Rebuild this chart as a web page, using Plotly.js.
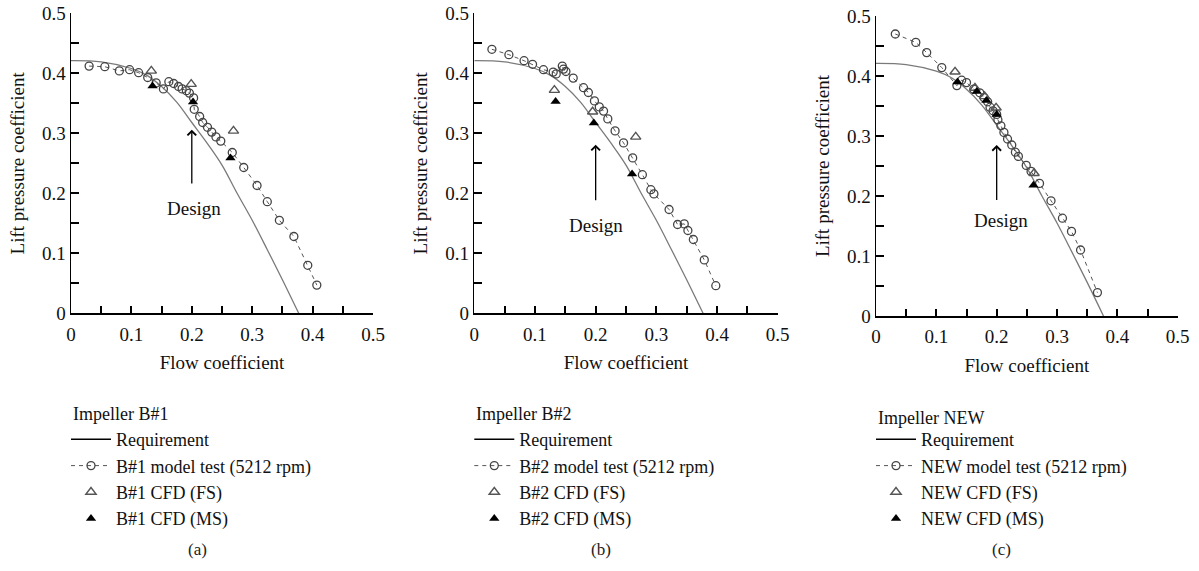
<!DOCTYPE html>
<html><head><meta charset="utf-8">
<script src="https://cdn.plot.ly/plotly-3.0.1.min.js"></script>
<style>html,body{margin:0;padding:0;background:#fff}#chart{width:1199px;height:571px}</style>
</head><body><div id="chart"></div>
<script>
// Requirement curve (same in all panels)
const reqX = [0, 0.05, 0.1, 0.125, 0.15, 0.175, 0.2, 0.225, 0.25, 0.275, 0.3, 0.325, 0.35, 0.377];
const reqY = [0.421, 0.419, 0.408, 0.397, 0.378, 0.352, 0.318, 0.284, 0.247, 0.2, 0.155, 0.106, 0.056, 0];

// Panel (a) Impeller B#1
const aTestX = [0.030,0.056,0.080,0.097,0.112,0.127,0.141,0.153,0.162,0.170,0.178,0.184,0.191,0.196,0.203,0.204,0.213,0.218,0.226,0.233,0.240,0.248,0.267,0.286,0.308,0.325,0.345,0.369,0.392,0.407];
const aTestY = [0.412,0.411,0.404,0.406,0.401,0.393,0.384,0.374,0.386,0.383,0.378,0.374,0.371,0.367,0.359,0.340,0.328,0.318,0.310,0.302,0.294,0.287,0.268,0.243,0.213,0.186,0.155,0.128,0.080,0.047];
const aFsX = [0.133,0.199,0.269];
const aFsY = [0.404,0.382,0.304];
const aMsX = [0.135,0.202,0.264];
const aMsY = [0.379,0.352,0.259];

// Panel (b) Impeller B#2
const bTestX = [0.029,0.057,0.082,0.096,0.114,0.130,0.135,0.145,0.147,0.151,0.163,0.180,0.188,0.198,0.206,0.213,0.220,0.232,0.246,0.261,0.277,0.291,0.296,0.321,0.335,0.346,0.352,0.361,0.379,0.398];
const bTestY = [0.440,0.431,0.421,0.415,0.406,0.402,0.399,0.412,0.407,0.403,0.392,0.376,0.368,0.354,0.344,0.337,0.324,0.304,0.284,0.259,0.231,0.206,0.199,0.173,0.148,0.149,0.138,0.123,0.089,0.046];
const bFsX = [0.132,0.195,0.266];
const bFsY = [0.372,0.336,0.294];
const bMsX = [0.134,0.197,0.260];
const bMsY = [0.353,0.317,0.232];

// Panel (c) Impeller NEW
const cTestX = [0.032,0.066,0.084,0.109,0.134,0.142,0.150,0.162,0.172,0.179,0.185,0.189,0.194,0.200,0.202,0.207,0.212,0.218,0.225,0.231,0.236,0.249,0.257,0.271,0.290,0.309,0.324,0.339,0.367];
const cTestY = [0.470,0.456,0.439,0.414,0.384,0.393,0.389,0.378,0.372,0.364,0.357,0.348,0.342,0.336,0.327,0.317,0.306,0.295,0.285,0.273,0.266,0.251,0.241,0.221,0.192,0.163,0.141,0.110,0.039];
const cFsX = [0.131,0.164,0.180,0.199,0.262];
const cFsY = [0.407,0.380,0.366,0.347,0.238];
const cMsX = [0.135,0.167,0.183,0.200,0.261];
const cMsY = [0.390,0.374,0.359,0.336,0.218];

const panelNames = ['B#1','B#2','NEW'];
const panelCaps = ['(a)','(b)','(c)'];
const tickVals = [0,0.05,0.1,0.15,0.2,0.25,0.3,0.35,0.4,0.45,0.5];
const tickText = ['0','','0.1','','0.2','','0.3','','0.4','','0.5'];

const designTip = [[0.2,0.306],[0.2,0.281],[0.2,0.285]];
const designTail = [[0.2,0.214],[0.2,0.186],[0.2,0.191]];
const designLabel = [[0.203,0.175],[0.2,0.147],[0.207,0.160]];

const FONT = 'Liberation Serif, Times New Roman, serif';
const FS = 19;
const LFS = 18;
const W = 1199, H = 571;
// pixel geometry of each panel: [x0,x1,yTop,yBottom]
const geo = [[71,373,13.3,313.3],[474.3,777.7,13.3,313.3],[876,1177.7,16,316]];
const legTitleY = [414, 414, 418];

const panels = [
  {tx:aTestX, ty:aTestY, fx:aFsX, fy:aFsY, mx:aMsX, my:aMsY},
  {tx:bTestX, ty:bTestY, fx:bFsX, fy:bFsY, mx:bMsX, my:bMsY},
  {tx:cTestX, ty:cTestY, fx:cFsX, fy:cFsY, mx:cMsX, my:cMsY}
];

const traces = [];
const layout = {
  width: W, height: H, margin:{l:0,r:0,t:0,b:0},
  paper_bgcolor:'#fff', plot_bgcolor:'#fff',
  font:{family:FONT, size:FS, color:'#111'},
  annotations:[], showlegend:true
};

panels.forEach((p,i)=>{
  const sfx = i===0 ? '' : String(i+1);
  const xa = 'x'+sfx, ya = 'y'+sfx;
  const lg = i===0 ? 'legend' : 'legend'+(i+1);
  const g = geo[i];
  const common = {xaxis:xa, yaxis:ya, legend:lg};
  traces.push(Object.assign({x:reqX, y:reqY, mode:'lines', line:{color:'#7a7a7a', width:1.3, shape:'spline', smoothing:1}, showlegend:false, hoverinfo:'skip'}, common));
  traces.push(Object.assign({x:[null], y:[null], mode:'lines', name:'Requirement', line:{color:'#000', width:1.6}}, common));
  traces.push(Object.assign({x:p.tx, y:p.ty, mode:'lines+markers', name:panelNames[i]+' model test (5212 rpm)',
    line:{color:'#555', width:1, dash:'4px,4px'},
    marker:{symbol:'circle-open', size:8, color:'#444', line:{width:1.3}}}, common));
  traces.push(Object.assign({x:p.fx, y:p.fy, mode:'markers', name:panelNames[i]+' CFD (FS)',
    marker:{symbol:'triangle-up-open', size:9, color:'#555', line:{width:1.4}}}, common));
  traces.push(Object.assign({x:p.mx, y:p.my, mode:'markers', name:panelNames[i]+' CFD (MS)',
    marker:{symbol:'triangle-up', size:9, color:'#000'}}, common));

  layout['xaxis'+sfx] = {
    domain:[g[0]/W, g[1]/W], anchor:ya, range:[0,0.5],
    showgrid:false, zeroline:false, showline:true, linecolor:'#000', linewidth:1.5,
    ticks:'inside', ticklen:7, tickwidth:2, tickcolor:'#000',
    tickmode:'array', tickvals:tickVals, ticktext:tickText, ticklabelstandoff:3,
    tickfont:{family:FONT, size:FS, color:'#111'},
    title:{text:'Flow coefficient', font:{family:FONT, size:FS, color:'#111'}, standoff:12}
  };
  layout['yaxis'+sfx] = {
    domain:[(H-g[3])/H, (H-g[2])/H], anchor:xa, range:[0,0.5],
    showgrid:false, zeroline:false, showline:true, linecolor:'#000', linewidth:1.5,
    ticks:'inside', ticklen:8, tickwidth:2, tickcolor:'#000',
    tickmode:'array', tickvals:tickVals, ticktext:tickText,
    tickfont:{family:FONT, size:FS, color:'#111'},
    title:{text:'Lift pressure coefficient', font:{family:FONT, size:FS, color:'#111'}, standoff:12}
  };
  layout[lg] = {
    x:(g[0]-5)/W, xanchor:'left', y:(H-421)/H, yanchor:'top',
    bgcolor:'rgba(0,0,0,0)', borderwidth:0, itemwidth:40,
    font:{family:FONT, size:LFS, color:'#111'},
    tracegroupgap:0
  };
  layout.annotations.push({xref:'paper', yref:'paper', x:g[0]/W, y:(H-legTitleY[i])/H,
    xanchor:'left', yanchor:'middle', text:'Impeller '+panelNames[i], showarrow:false,
    font:{family:FONT, size:LFS, color:'#111'}});
  layout.annotations.push({xref:xa, yref:ya, x:designTip[i][0], y:designTip[i][1],
    axref:xa, ayref:ya, ax:designTail[i][0], ay:designTail[i][1],
    text:'', showarrow:true, arrowhead:4, arrowsize:1.3, arrowwidth:1.3, arrowcolor:'#000'});
  layout.annotations.push({xref:xa, yref:ya, x:designLabel[i][0], y:designLabel[i][1],
    text:'Design', showarrow:false, font:{family:FONT, size:FS, color:'#111'}});
  layout.annotations.push({xref:'paper', yref:'paper', x:((g[0]+g[1])/2 - 25)/W, y:(H-549)/H,
    xanchor:'center', yanchor:'middle',
    text:panelCaps[i], showarrow:false, font:{family:FONT, size:17, color:'#222'}});
});

Plotly.newPlot('chart', traces, layout, {staticPlot:true, displayModeBar:false});
</script>
</body></html>
